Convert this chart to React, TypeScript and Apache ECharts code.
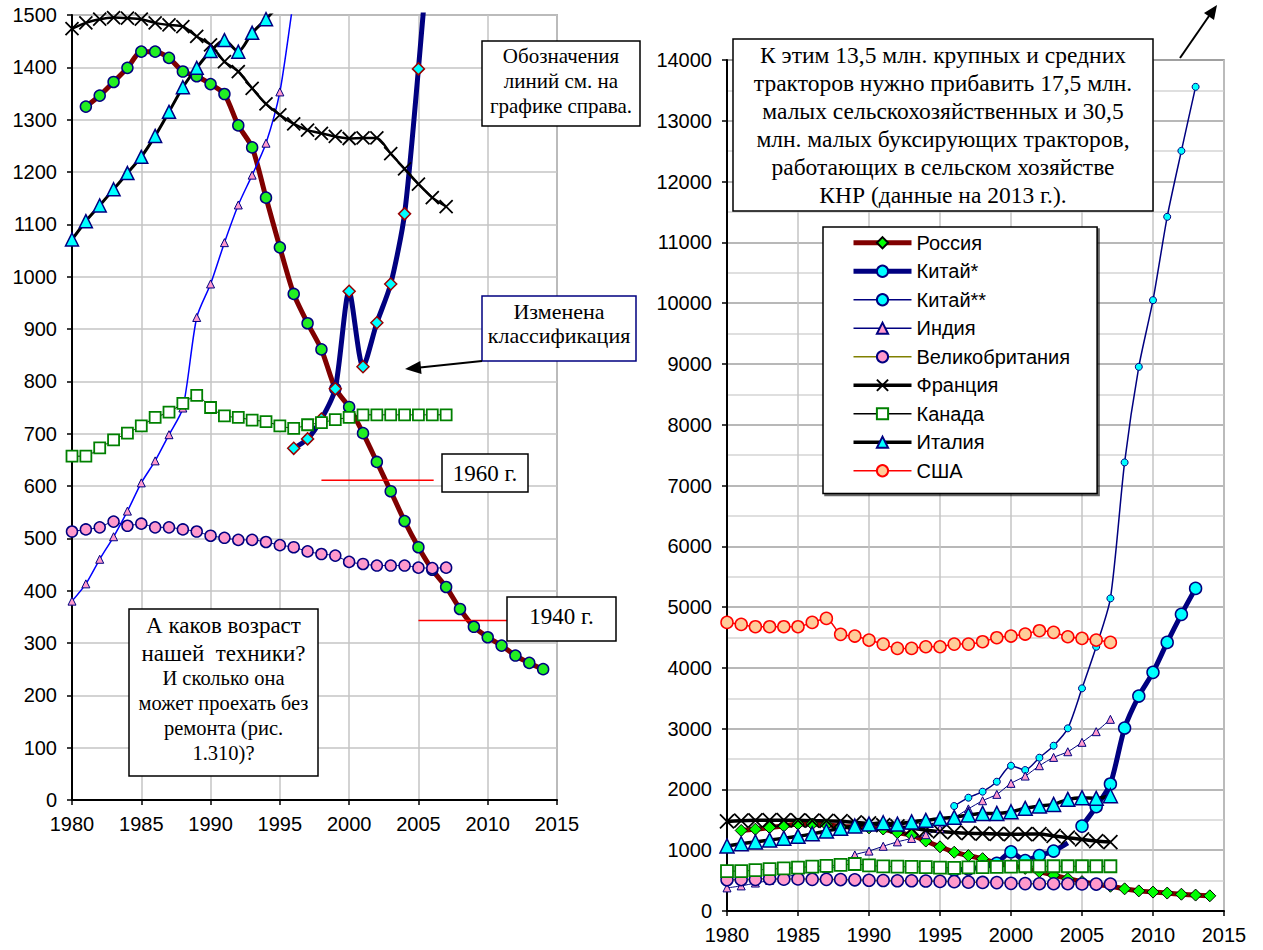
import React, { useEffect, useRef } from "react";
import * as echarts from "echarts";

// ---------- data ----------
const X_MIN = 1980;
const X_MAX = 2015;

const russiaStart = 1981;
const russia = [1325, 1346, 1372, 1399, 1430, 1430, 1418, 1392, 1383, 1368, 1349, 1289, 1247, 1151, 1056, 967, 911, 861, 786, 751, 701, 646, 590, 533, 483, 440, 407, 365, 331, 311, 295, 276, 262, 250];

const chinaAStart = 1996; // before reclassification
const chinaA = [672, 690, 728, 786, 972, 828, 912, 986, 1120];
const chinaBStart = 2005; // after reclassification
const chinaB = [1397, 1715, 2090, 3010, 3536, 3926, 4419, 4880, 5307];

const china2Start = 1996;
const china2 = [1727, 1864, 1963, 2127, 2390, 2319, 2522, 2719, 3005, 3663, 4347, 5143, 7380, 8952, 10049, 11420, 12505, 13558];

const start1980 = 1980;
const india = [380, 413, 460, 503, 552, 606, 648, 698, 749, 922, 986, 1065, 1137, 1194, 1255, 1353, 1530, 1680, 1814, 1919, 2100, 2220, 2390, 2527, 2620, 2775, 2950, 3153];
const uk = [513, 517, 521, 532, 524, 528, 521, 521, 517, 513, 505, 501, 497, 497, 493, 487, 483, 475, 470, 467, 455, 451, 448, 448, 448, 444, 443, 444];
const france = [1474, 1485, 1492, 1495, 1494, 1492, 1485, 1481, 1478, 1459, 1443, 1411, 1392, 1360, 1330, 1309, 1292, 1280, 1274, 1268, 1264, 1265, 1265, 1235, 1206, 1177, 1151, 1134];
const canada = [657, 657, 673, 688, 701, 715, 731, 741, 758, 773, 750, 734, 731, 726, 723, 715, 710, 717, 721, 727, 731, 736, 736, 736, 736, 736, 736, 736];
const italy = [1071, 1106, 1136, 1167, 1198, 1229, 1269, 1315, 1362, 1399, 1431, 1452, 1430, 1466, 1492, 1520, 1541, 1579, 1606, 1606, 1633, 1689, 1727, 1754, 1837, 1864, 1853, 1896];
const usa = [4748, 4715, 4677, 4677, 4677, 4677, 4748, 4814, 4551, 4523, 4457, 4391, 4320, 4320, 4347, 4347, 4391, 4391, 4430, 4496, 4523, 4556, 4611, 4584, 4512, 4485, 4457, 4419];

// reference levels (age of fleet equivalent years) on the left chart
const refLevels = [
  { label: "1960 г.", value: 611, from: 1998, to: 2006.1 },
  { label: "1940 г.", value: 343, from: 2005, to: 2011.4 },
];

const legendNames = ["Россия", "Китай*", "Китай**", "Индия", "Великобритания", "Франция", "Канада", "Италия", "США"];

// ---------- helpers ----------
const pairs = (start: number, arr: number[]) => arr.map((v, i) => [start + i, v]);
const X_PATH = "path://M0,0L10,10M10,0L0,10";
const SANS = "Liberation Sans";
const SERIF = "Liberation Serif";

// right-chart series styles (also used by the legend)
const rightStyles: Record<string, any> = {
  "Россия": { line: "#800000", width: 5, symbol: "diamond", size: 12, fill: "#00ff00", border: "#000", bw: 1 },
  "Китай*": { line: "#000080", width: 5, symbol: "circle", size: 12, fill: "#00ffff", border: "#000080" },
  "Китай**": { line: "#000080", width: 1.5, symbol: "circle", size: 7, fill: "#00ffff", border: "#000080", bw: 1 },
  "Индия": { line: "#000080", width: 1, symbol: "triangle", size: 8, fill: "#ff99cc", border: "#000080", bw: 1 },
  "Великобритания": { line: "#808000", width: 1.5, symbol: "circle", size: 12, fill: "#ff99cc", border: "#000080" },
  "Франция": { line: "#000", width: 3.5, symbol: X_PATH, size: 14, fill: "#000", border: "#000", bw: 1.8 },
  "Канада": { line: "#000", width: 1, symbol: "rect", size: 12, fill: "#fff", border: "#008000", bw: 1.8 },
  "Италия": { line: "#000", width: 3.5, symbol: "triangle", size: 14, fill: "#00ffff", border: "#000080" },
  "США": { line: "#ff0000", width: 1.5, symbol: "circle", size: 12, fill: "#ffcc99", border: "#ff0000" },
};

function lineSeries(name: string, grid: number, data: any[], o: any) {
  return {
    name,
    type: "line",
    xAxisIndex: grid,
    yAxisIndex: grid,
    data,
    smooth: o.smooth ?? 0.25,
    symbol: o.symbol,
    symbolSize: o.size,
    showSymbol: true,
    clip: true,
    lineStyle: { color: o.line, width: o.width },
    itemStyle: { color: o.fill, borderColor: o.border, borderWidth: o.bw ?? 1.5 },
    emphasis: { disabled: true },
    silent: true,
  };
}

function xAxisCfg(gridIndex: number) {
  return {
    gridIndex,
    type: "value",
    min: X_MIN,
    max: X_MAX,
    interval: 5,
    axisLine: { show: true, onZero: false, lineStyle: { color: "#000", width: 2 } },
    axisTick: { show: true, length: 5, lineStyle: { color: "#000", width: 1.5 } },
    axisLabel: { color: "#000", fontSize: 20, fontFamily: SANS, margin: 14, formatter: (v: number) => String(v) },
    splitLine: { show: true, lineStyle: { color: "#c4c4c4", width: 1.5 } },
  };
}

export default function App() {
  const ref = useRef<HTMLDivElement>(null);

  useEffect(() => {
    if (!ref.current) return;
    document.body.style.margin = "0";
    const chart = echarts.init(ref.current, undefined, { renderer: "svg" });

    const chinaAll = [...pairs(chinaAStart, chinaA), ...pairs(chinaBStart, chinaB)];
    const chinaARight = pairs(chinaAStart, chinaA).map((p, i, a) =>
      i === a.length - 1 ? { value: p, symbol: "none" } : p
    );

    const series: any[] = [
      // ---- left chart ----
      lineSeries("L-Россия", 0, pairs(russiaStart, russia), { line: "#800000", width: 5, symbol: "circle", size: 11, fill: "#22ee22", border: "#000080" }),
      lineSeries("L-Китай*", 0, chinaAll, { line: "#000080", width: 5, symbol: "diamond", size: 12, fill: "#00ffff", border: "#990000" }),
      lineSeries("L-Индия", 0, pairs(start1980, india), { line: "#0000ff", width: 1.5, symbol: "triangle", size: 8, fill: "#ff99cc", border: "#000080", bw: 1 }),
      lineSeries("L-Великобритания", 0, pairs(start1980, uk), { line: "#000080", width: 1, symbol: "circle", size: 11, fill: "#ff99cc", border: "#000080" }),
      lineSeries("L-Франция", 0, pairs(start1980, france), { line: "#000", width: 2.5, symbol: X_PATH, size: 13, fill: "#000", border: "#000", bw: 1.8 }),
      lineSeries("L-Канада", 0, pairs(start1980, canada), { line: "#000", width: 1, symbol: "rect", size: 11, fill: "#fff", border: "#008000", bw: 1.8 }),
      lineSeries("L-Италия", 0, pairs(start1980, italy), { line: "#000", width: 3, symbol: "triangle", size: 13, fill: "#00ffff", border: "#000080" }),
      ...refLevels.map((r) => ({
        name: "ref-" + r.label,
        type: "line",
        xAxisIndex: 0,
        yAxisIndex: 0,
        data: [[r.from, r.value], [r.to, r.value]],
        showSymbol: false,
        symbol: "none",
        lineStyle: { color: "#ff0000", width: 1.5 },
        silent: true,
      })),
      // ---- right chart ----
      lineSeries("Россия", 1, pairs(russiaStart, russia), rightStyles["Россия"]),
      lineSeries("Китай*", 1, chinaARight, rightStyles["Китай*"]),
      lineSeries("Китай*", 1, pairs(chinaBStart, chinaB), rightStyles["Китай*"]),
      lineSeries("Китай**", 1, pairs(china2Start, china2), rightStyles["Китай**"]),
      lineSeries("Индия", 1, pairs(start1980, india), rightStyles["Индия"]),
      lineSeries("Великобритания", 1, pairs(start1980, uk), rightStyles["Великобритания"]),
      lineSeries("Франция", 1, pairs(start1980, france), rightStyles["Франция"]),
      lineSeries("Канада", 1, pairs(start1980, canada), rightStyles["Канада"]),
      lineSeries("Италия", 1, pairs(start1980, italy), rightStyles["Италия"]),
      lineSeries("США", 1, pairs(start1980, usa), rightStyles["США"]),
    ];

    const box = (x: number, y: number, w: number, h: number, stroke = "#000") => ({
      type: "rect",
      z: 100,
      shape: { x, y, width: w, height: h },
      style: { fill: "#fff", stroke, lineWidth: 1.5 },
    });
    const txt = (x: number, y: number, text: string, fontSize: number, lineHeight: number) => ({
      type: "text",
      z: 101,
      x,
      y,
      style: { text, align: "center", verticalAlign: "middle", fontFamily: SERIF, fontSize, lineHeight, fill: "#000" },
    });

    const option: any = {
      animation: false,
      tooltip: { show: false },
      grid: [
        { left: 72, top: 15, width: 485, height: 785, show: true, borderColor: "#808080", borderWidth: 1.5, backgroundColor: "transparent" },
        { left: 727, top: 60, width: 497, height: 851, show: true, borderColor: "#808080", borderWidth: 1.5, backgroundColor: "transparent" },
      ],
      xAxis: [xAxisCfg(0), xAxisCfg(1)],
      yAxis: [
        {
          gridIndex: 0,
          type: "value",
          min: 0,
          max: 1500,
          interval: 100,
          axisLine: { show: true, onZero: false, lineStyle: { color: "#000", width: 2 } },
          axisTick: { show: true, length: 5, lineStyle: { color: "#000", width: 1.5 } },
          axisLabel: { color: "#000", fontSize: 20, fontFamily: SANS, margin: 15, formatter: (v: number) => String(v) },
          splitLine: { show: true, lineStyle: { color: "#c4c4c4", width: 1.5 } },
        },
        {
          gridIndex: 1,
          type: "value",
          min: 0,
          max: 14000,
          interval: 1000,
          axisLine: { show: true, onZero: false, lineStyle: { color: "#000", width: 2 } },
          axisTick: { show: true, length: 5, lineStyle: { color: "#000", width: 1.5 } },
          axisLabel: { color: "#000", fontSize: 20, fontFamily: SANS, margin: 15, formatter: (v: number) => String(v) },
          splitLine: { show: true, lineStyle: { color: "#a0a0a0", width: 1.5 } },
          minorTick: { show: false, splitNumber: 2 },
          minorSplitLine: { show: true, lineStyle: { color: "#d4d4d4", width: 1.5 } },
        },
      ],
      legend: {
        data: legendNames.map((n) => ({
          name: n,
          lineStyle: { color: rightStyles[n].line, width: Math.max(rightStyles[n].width, 1.5) },
        })),
        orient: "vertical",
        left: 823,
        top: 227,
        itemWidth: 58,
        itemHeight: 14,
        itemGap: 7,
        selectedMode: false,
        padding: [5, 27, 12, 28],
        backgroundColor: "#fff",
        borderColor: "#000",
        borderWidth: 1.5,
        shadowColor: "rgba(0,0,0,0.6)",
        shadowOffsetX: 2,
        shadowOffsetY: 2,
        textStyle: { color: "#000", fontFamily: SANS, fontSize: 20, lineHeight: 21.5 },
        z: 90,
      },
      graphic: [
        // left chart annotations
        box(482, 41, 158, 85),
        txt(561, 81, "Обозначения\nлиний см. на\nграфике справа.", 21, 25),
        box(482, 296, 154, 65, "#000080"),
        txt(559, 323, "Изменена\nклассификация", 22, 24),
        { type: "line", z: 100, shape: { x1: 482, y1: 361, x2: 420, y2: 367.5 }, style: { stroke: "#000", lineWidth: 2 } },
        { type: "polygon", z: 100, shape: { points: [[405, 369], [421.5, 374], [420.3, 361]] }, style: { fill: "#000" } },
        box(442, 454, 86, 38),
        txt(485, 473, refLevels[0].label, 23, 24),
        box(507, 597, 109, 44),
        txt(561.5, 616, refLevels[1].label, 23, 24),
        box(129, 609, 189, 167),
        txt(223.5, 639, "А каков возраст\nнашей  техники?", 23, 28),
        txt(223.5, 715.5, "И сколько она\nможет проехать без\nремонта (рис.\n1.310)?", 20.5, 25),
        // right chart annotations
        box(733, 39, 420, 172),
        txt(943, 125, "К этим 13,5 млн. крупных и средних\nтракторов нужно прибавить 17,5 млн.\nмалых сельскохозяйственных и 30,5\nмлн. малых буксирующих тракторов,\nработающих в сельском хозяйстве\nКНР (данные на 2013 г.).", 23.5, 28),
        { type: "line", z: 100, shape: { x1: 1180, y1: 58, x2: 1209, y2: 16 }, style: { stroke: "#000", lineWidth: 2 } },
        { type: "polygon", z: 100, shape: { points: [[1217, 5], [1214, 20], [1204, 13]] }, style: { fill: "#000" } },
      ],
      series,
    };

    chart.setOption(option);
    return () => chart.dispose();
  }, []);

  return (
    <div style={{ position: "fixed", left: 0, top: 0, width: 1263, height: 950, background: "#fff" }}>
      <div ref={ref} style={{ width: 1263, height: 950 }} />
    </div>
  );
}
